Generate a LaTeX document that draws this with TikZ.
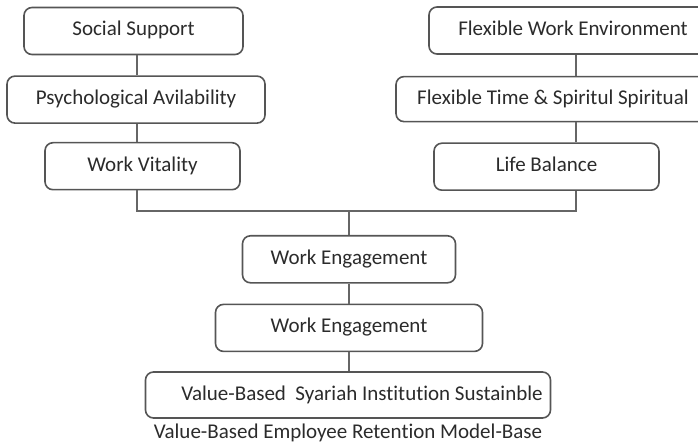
\documentclass[tikz,border=0pt]{standalone}
\usepackage{fontspec}
\setmainfont{Carlito}[Ligatures=NoCommon]
\usepackage{tikz}
\usetikzlibrary{positioning}

\definecolor{boxline}{HTML}{555555}
\definecolor{linkline}{HTML}{666666}
\definecolor{boxtext}{HTML}{2b2b2b}

\tikzset{
  factor/.style={draw=boxline, line width=1.6pt, rounded corners=8pt, fill=white,
    minimum height=47pt, inner sep=0pt, text height=14pt, text depth=4pt,
    text=boxtext, font=\fontsize{21}{25}\selectfont},
  link/.style={draw=linkline, line width=1.5pt}
}

\begin{document}
\begin{tikzpicture}[x=1pt, y=1pt]
\useasboundingbox (0,0) rectangle (698,-446);
% left column
\node[factor, minimum width=219pt] at (133.5,-31) (ss) {Social Support};
\node[factor, minimum width=258pt, below=20pt of ss, xshift=2.5pt] (pa) {Psychological Avilability};
\node[factor, minimum width=195pt, below=18pt of pa, xshift=6.5pt] (wv) {Work Vitality};
% right column
\node[factor, minimum width=288pt] at (573,-30.5) (fwe) {Flexible Work Environment};
\node[factor, minimum width=314pt, minimum height=45pt, below=21pt of fwe, xshift=-20pt] (ft) {Flexible Time \& Spiritul Spiritual};
\node[factor, minimum width=225pt, below=20pt of ft, xshift=-6.5pt] (lb) {Life Balance};
% joining lines
\coordinate (lspine) at (137,-211);
\coordinate (rspine) at (576,-211);
\coordinate (jn) at (349,-211);
% centre column
\node[factor, minimum width=213pt, below=24pt of jn] (we1) {Work Engagement};
\node[factor, minimum width=267pt, below=20pt of we1] (we2) {Work Engagement};
\node[factor, minimum width=405pt, minimum height=46pt, below=19pt of we2, xshift=-1pt] (vb) {\hspace*{28pt}Value-Based\ \ Syariah Institution Sustainble};
\node[below=2pt of vb, text=boxtext, font=\fontsize{21}{25}\selectfont] (cap) {Value-Based Employee Retention Model-Base};

\draw[link] (ss.south -| lspine) -- (pa.north -| lspine);
\draw[link] (pa.south -| lspine) -- (wv.north -| lspine);
\draw[link] (fwe.south -| rspine) -- (ft.north -| rspine);
\draw[link] (ft.south -| rspine) -- (lb.north -| rspine);
\draw[link] (wv.south -| lspine) -- (lspine) -- (rspine) -- (lb.south -| rspine);
\draw[link] (jn) -- (we1.north -| jn);
\draw[link] (we1.south -| jn) -- (we2.north -| jn);
\draw[link] (we2.south -| jn) -- (vb.north -| jn);
\end{tikzpicture}
\end{document}
